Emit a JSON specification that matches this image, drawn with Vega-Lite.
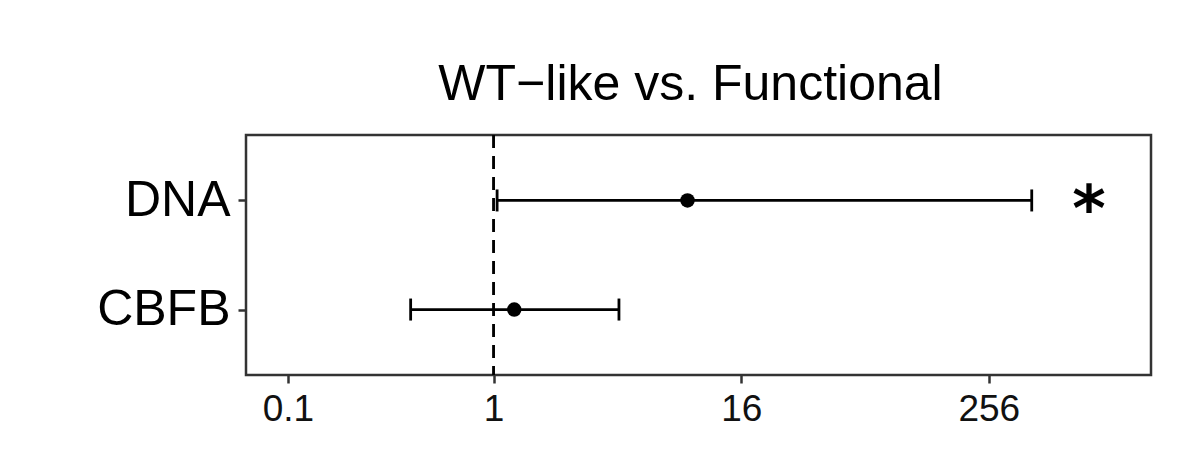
{
  "$schema": "https://vega.github.io/schema/vega-lite/v6.json",
  "autosize": "none",
  "padding": {"left": 246, "top": 135, "right": 40, "bottom": 74},
  "width": 905,
  "height": 240,
  "background": "white",
  "config": {
    "font": "Liberation Sans",
    "view": {"stroke": "#333333", "strokeWidth": 2.5}
  },
  "title": {
    "text": "WT−like vs. Functional",
    "fontSize": 50,
    "fontWeight": "normal",
    "color": "black",
    "offset": 24,
    "dx": -8
  },
  "data": {
    "values": [
      {"gene": "DNA", "or": 8.77, "lo": 1.04, "hi": 414, "sig": "*", "sig_x": 787},
      {"gene": "CBFB", "or": 1.26, "lo": 0.395, "hi": 4.07, "sig": "", "sig_x": 787}
    ]
  },
  "encoding": {
    "y": {
      "field": "gene",
      "type": "nominal",
      "sort": ["DNA", "CBFB"],
      "scale": {"type": "point", "padding": 0.6},
      "axis": {
        "title": null,
        "domain": false,
        "grid": false,
        "tickColor": "#333333",
        "tickWidth": 2.5,
        "tickSize": 8,
        "labelFontSize": 50,
        "labelColor": "black",
        "labelPadding": 8
      }
    }
  },
  "layer": [
    {
      "mark": {"type": "rule", "strokeDash": [13, 8], "strokeWidth": 2.5, "color": "black"},
      "encoding": {"x": {"datum": 1, "type": "quantitative"}, "y": null}
    },
    {
      "mark": {"type": "rule", "strokeWidth": 2.8, "color": "black"},
      "encoding": {
        "x": {
          "field": "lo",
          "type": "quantitative",
          "scale": {"type": "log", "base": 2, "domain": [0.0625, 1574], "nice": false, "zero": false},
          "axis": {
            "title": null,
            "values": [0.1, 1, 16, 256],
            "format": "~g",
            "domain": false,
            "grid": false,
            "tickColor": "#333333",
            "tickWidth": 2.5,
            "tickSize": 8,
            "labelFontSize": 37,
            "labelColor": "#111111",
            "labelPadding": 8
          }
        },
        "x2": {"field": "hi"}
      }
    },
    {
      "mark": {"type": "tick", "size": 22, "thickness": 2.8, "color": "black", "opacity": 1},
      "encoding": {"x": {"field": "lo", "type": "quantitative"}}
    },
    {
      "mark": {"type": "tick", "size": 22, "thickness": 2.8, "color": "black", "opacity": 1},
      "encoding": {"x": {"field": "hi", "type": "quantitative"}}
    },
    {
      "mark": {"type": "circle", "size": 210, "color": "black", "opacity": 1},
      "encoding": {"x": {"field": "or", "type": "quantitative"}}
    },
    {
      "mark": {"type": "text", "fontSize": 64, "color": "black", "baseline": "middle", "dy": 12, "font": "DejaVu Sans", "fontWeight": "bold"},
      "encoding": {
        "x": {"field": "sig_x", "type": "quantitative"},
        "text": {"field": "sig"}
      }
    }
  ]
}
